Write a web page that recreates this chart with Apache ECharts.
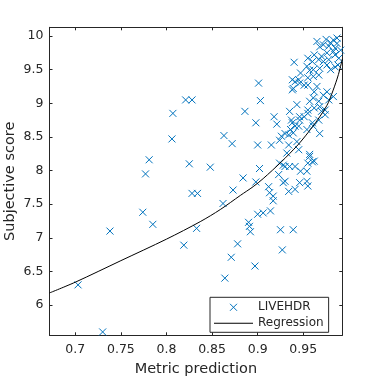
<!DOCTYPE html>
<html><head><meta charset="utf-8">
<script src="https://cdn.jsdelivr.net/npm/echarts@6/dist/echarts.min.js"></script>
<style>html,body{margin:0;padding:0;background:#fff}#c{width:378px;height:378px}</style>
</head><body><div id="c"></div>
<script>
const xTicks = [0.7, 0.75, 0.8, 0.85, 0.9, 0.95];
const yTicks = [6, 6.5, 7, 7.5, 8, 8.5, 9, 9.5, 10];

// LIVEHDR scatter: metric prediction / subjective score
const predX = [0.703,0.730,0.738,0.774,0.777,0.781,0.785,0.807,0.806,0.819,0.821,0.828,0.825,0.828,0.834,0.833,0.848,0.862,0.863,0.872,
0.884,0.886,0.898,0.900,0.901,0.903,0.902,0.898,0.873,0.864,0.871,0.878,0.890,0.891,0.892,0.897,0.900,0.906,0.914,0.912,
0.913,0.917,0.917,0.918,0.915,0.921,0.925,0.939,0.927,0.923,0.928,0.934,0.941,0.946,0.954,0.955,0.947,0.954,0.924,0.930,
0.934,0.932,0.945,0.928,0.930,0.924,0.930,0.941,0.955,0.960,0.957,0.968,0.962,0.957,0.935,0.934,0.926,0.943,0.939,0.941,
0.937,0.935,0.946,0.955,0.943,0.939,0.941,0.951,0.955,0.965,0.962,0.961,0.967,0.962,0.955,0.951,0.946,0.945,0.938,0.936,
0.954,0.961,0.967,0.968,0.970,0.972,0.983,0.978,0.976,0.960,0.974,0.957,0.940,0.955,0.968,0.972,0.983,0.987,0.993,0.976,
0.983,0.985,0.989,0.972,0.967,0.960,0.954,0.961,0.968,0.976,0.962,0.978,0.947,0.938,0.945,0.955,0.967,0.980,0.987,0.985,
0.991,0.965,0.988,0.985,0.938,0.946,0.957,0.961,0.974,0.978,0.975,0.970,0.980];
const scoreY = [6.30,5.60,7.10,7.38,7.95,8.16,7.20,8.85,8.47,6.89,9.05,9.05,8.10,7.66,7.66,7.14,8.05,7.51,8.52,8.40,
7.89,8.88,8.71,8.38,9.30,9.04,8.03,7.83,7.71,6.40,6.71,6.91,7.23,7.17,7.09,6.58,7.35,7.37,7.40,7.76,
7.67,7.62,7.55,8.80,8.38,8.69,7.12,7.12,6.82,7.94,7.82,7.69,7.72,7.82,7.84,7.77,7.99,7.99,8.45,8.55,
8.38,8.26,8.31,8.08,8.06,8.11,7.84,8.06,8.11,8.13,8.21,8.55,8.14,8.24,8.06,8.53,8.51,8.43,8.56,8.66,
8.75,8.88,8.80,8.90,8.98,9.22,9.32,9.27,9.27,9.25,9.17,9.08,9.03,8.93,8.85,8.80,8.75,8.66,8.71,8.61,
8.61,8.66,8.75,8.95,8.88,9.12,9.10,9.05,9.17,8.71,8.90,9.03,9.61,9.67,9.84,9.87,9.94,9.97,9.92,9.75,
9.77,9.72,9.67,9.62,9.65,9.62,9.55,9.50,9.52,9.57,9.72,9.65,9.45,9.35,9.35,9.38,9.42,9.50,9.89,9.82,
9.79,9.92,9.57,9.54,9.20,9.30,9.49,9.40,8.83,9.85,9.95,9.70,9.90];

// Regression curve
const regX = [0.6717,0.70,0.75,0.80,0.837,0.859,0.881,0.895,0.906,0.926,0.944,0.955,0.966,0.976,0.981,0.987,0.990,0.9928];
const regY = [6.18,6.34,6.66,6.98,7.24,7.42,7.63,7.76,7.88,8.13,8.38,8.56,8.76,8.97,9.13,9.36,9.50,9.66];

const scatterData = predX.map((x, i) => [x, scoreY[i]]);
const regData = regX.map((x, i) => [x, regY[i]]);

const txt = '#262626';
const font = 'DejaVu Sans';
const XMIN = 0.6717, XMAX = 0.9928, YMIN = 5.55, YMAX = 10.13;
const fmt = v => String(+v.toFixed(2));
const xMark = 'path://M0,0L10,10M10,0L0,10';

const chart = echarts.init(document.getElementById('c'), null, {renderer: 'canvas'});
chart.setOption({
  animation: false,
  backgroundColor: '#fff',
  textStyle: {fontFamily: font},
  grid: {left: 49.5, right: 35.7, top: 27.3, bottom: 42.7, containLabel: false, outerBoundsMode: 'none'},
  xAxis: [{
    type: 'value', min: XMIN, max: XMAX, position: 'bottom',
    name: 'Metric prediction', nameLocation: 'middle', nameGap: 26, nameMoveOverlap: false,
    nameTextStyle: {color: txt, fontSize: 14.5, fontFamily: font},
    axisLine: {show: true, onZero: false, lineStyle: {color: txt, width: 1}},
    axisTick: {show: true, inside: true, length: 3, customValues: xTicks, lineStyle: {color: txt}},
    axisLabel: {show: true, customValues: xTicks, formatter: fmt, color: txt, fontSize: 12.5, fontFamily: font, margin: 8},
    splitLine: {show: false}
  }, {
    type: 'value', min: XMIN, max: XMAX, position: 'top',
    axisLine: {show: true, onZero: false, lineStyle: {color: txt, width: 1}},
    axisTick: {show: true, inside: true, length: 3, customValues: xTicks, lineStyle: {color: txt}},
    axisLabel: {show: false},
    splitLine: {show: false}
  }],
  yAxis: [{
    type: 'value', min: YMIN, max: YMAX, position: 'left',
    name: 'Subjective score', nameLocation: 'middle', nameGap: 32, nameRotate: 90, nameMoveOverlap: false,
    nameTextStyle: {color: txt, fontSize: 14.5, fontFamily: font},
    axisLine: {show: true, onZero: false, lineStyle: {color: txt, width: 1}},
    axisTick: {show: true, inside: true, length: 3, customValues: yTicks, lineStyle: {color: txt}},
    axisLabel: {show: true, customValues: yTicks, formatter: fmt, color: txt, fontSize: 12.5, fontFamily: font, margin: 6},
    splitLine: {show: false}
  }, {
    type: 'value', min: YMIN, max: YMAX, position: 'right',
    axisLine: {show: true, onZero: false, lineStyle: {color: txt, width: 1}},
    axisTick: {show: true, inside: true, length: 3, customValues: yTicks, lineStyle: {color: txt}},
    axisLabel: {show: false},
    splitLine: {show: false}
  }],
  legend: {
    orient: 'vertical', left: 210, top: 297.3,
    backgroundColor: '#fff', borderColor: txt, borderWidth: 1, borderRadius: 0,
    padding: [4, 5, 3, 4],
    itemWidth: 39, itemHeight: 7, itemGap: 4,
    textStyle: {color: txt, fontSize: 12, fontFamily: font},
    data: [
      {name: 'LIVEHDR', icon: xMark, itemStyle: {color: 'rgba(0,0,0,0)', borderColor: '#0072BD', borderWidth: 1}},
      {name: 'Regression', icon: 'path://M0,0L39,0L39,1L0,1Z', itemStyle: {color: '#000', borderWidth: 0}}
    ]
  },
  series: [{
    name: 'LIVEHDR', type: 'scatter', xAxisIndex: 0, yAxisIndex: 0,
    symbol: xMark, symbolSize: 7,
    itemStyle: {color: 'rgba(0,0,0,0)', borderColor: '#0072BD', borderWidth: 1, opacity: 1},
    emphasis: {disabled: true},
    data: scatterData
  }, {
    name: 'Regression', type: 'line', xAxisIndex: 0, yAxisIndex: 0,
    symbol: 'none', showSymbol: false, smooth: 0.3,
    lineStyle: {color: '#000', width: 1},
    itemStyle: {color: '#000'},
    emphasis: {disabled: true},
    data: regData
  }]
});
</script></body></html>
